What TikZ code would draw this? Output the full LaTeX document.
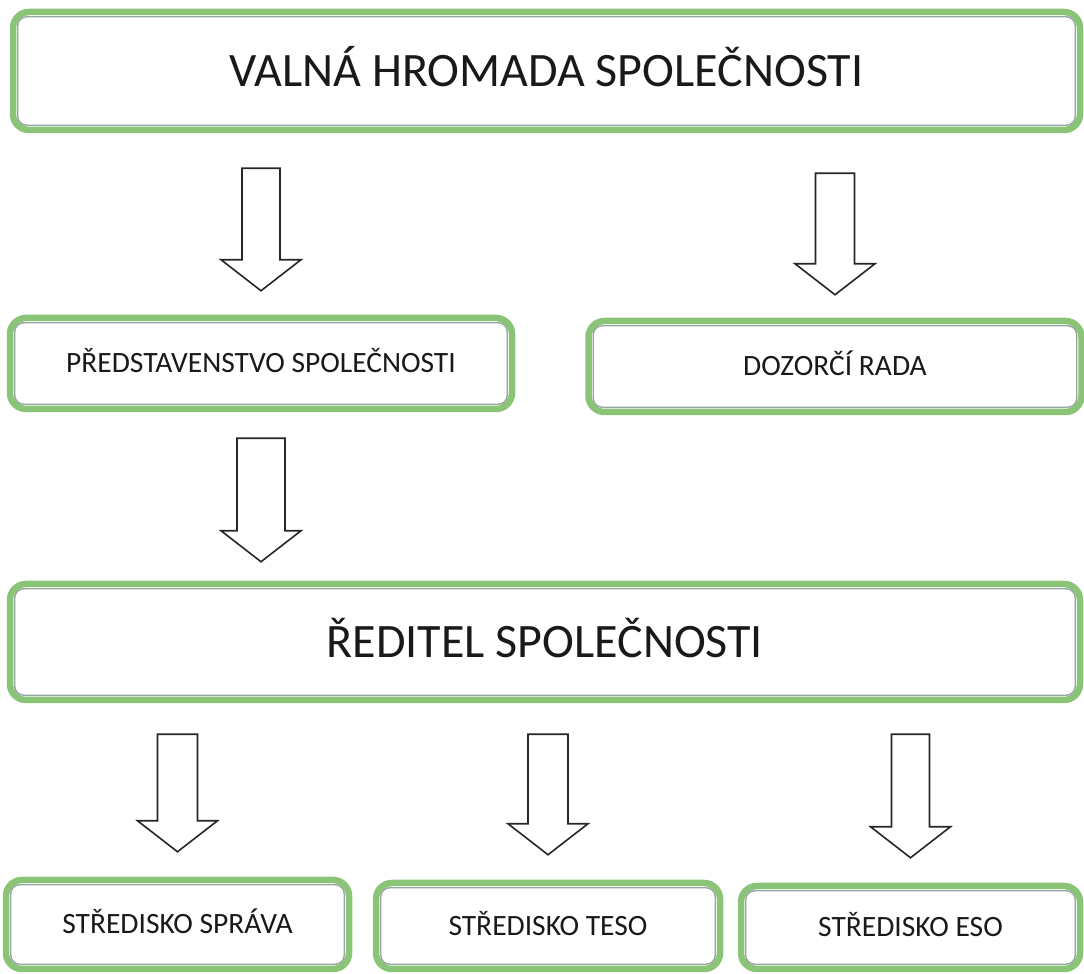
\documentclass[tikz,border=0pt]{standalone}
\usepackage{fontspec}
\setmainfont{Carlito}
\usetikzlibrary{calc}
\definecolor{boxgreen}{RGB}{138,196,118}
\definecolor{innergray}{RGB}{150,166,160}
\definecolor{txt}{RGB}{25,25,25}
\tikzset{
  orgbox/.style={draw=boxgreen, line width=6.5pt, rounded corners=16pt, fill=white,
    text=txt, inner sep=0pt, align=center, text depth=0pt},
  bigbox/.style={orgbox, font=\fontsize{48}{54}\selectfont, text height=31pt},
  smallbox/.style={orgbox, font=\fontsize{29.5}{34}\selectfont, text height=19pt},
  innerline/.style={draw=innergray, line width=1.4pt, rounded corners=9pt},
  blk/.style={draw=black!85, line width=1.6pt, fill=white, line join=miter}
}
% #1 source node, #2 target node, #3 top gap, #4 bottom gap, #5 shaft half width, #6 node giving x
\newcommand{\blockarrow}[6]{%
  \draw[blk] let \p1=($(#1.south -| #6.north)+(0pt,-#3pt)$), \p2=($(#2.north -| #6.north)+(0pt,#4pt)$) in
    (\x2-#5pt,\y1) -- (\x2+#5pt,\y1) -- (\x2+#5pt,\y2+31pt) -- (\x2+40pt,\y2+31pt)
    -- (\x2,\y2) -- (\x2-40pt,\y2+31pt) -- (\x2-#5pt,\y2+31pt) -- cycle;}
\newcommand{\innerframe}[1]{%
  \draw[innerline] ($(#1.south west)+(8pt,8pt)$) rectangle ($(#1.north east)+(-8pt,-8pt)$);}
\begin{document}
\begin{tikzpicture}[x=1pt,y=1pt]
\useasboundingbox (0,0) rectangle (1084,974);
\fill[white] (0,0) rectangle (1084,974);
% boxes
\node[bigbox, minimum width=1067pt, minimum height=118pt] (valna) at (546.5,903) {VALNÁ HROMADA SPOLEČNOSTI};
\node[smallbox, minimum width=502pt, minimum height=91pt] (pred) at (261,610.5) {PŘEDSTAVENSTVO SPOLEČNOSTI};
\node[smallbox, minimum width=493pt, minimum height=91pt] (dozor) at (835,607.5) {DOZORČÍ RADA};
\node[bigbox, minimum width=1070pt, minimum height=116pt] (reditel) at (545,332) {ŘEDITEL SPOLEČNOSTI};
\node[smallbox, minimum width=343pt, minimum height=89pt] (sprava) at (177.5,49.5) {STŘEDISKO SPRÁVA};
\node[smallbox, minimum width=344pt, minimum height=86pt] (teso) at (548,48) {STŘEDISKO TESO};
\node[smallbox, minimum width=339pt, minimum height=83pt] (eso) at (910.5,46.5) {STŘEDISKO ESO};
\foreach \n in {valna,pred,dozor,reditel,sprava,teso,eso}{\innerframe{\n}}
% arrows
\blockarrow{valna}{pred}{35}{24}{19}{pred}
\blockarrow{valna}{dozor}{40}{23}{19.5}{dozor}
\blockarrow{pred}{reditel}{26}{19}{24}{pred}
\blockarrow{reditel}{sprava}{31}{25}{20}{sprava}
\blockarrow{reditel}{teso}{31}{25}{20}{teso}
\blockarrow{reditel}{eso}{31}{25}{19}{eso}
\end{tikzpicture}
\end{document}
